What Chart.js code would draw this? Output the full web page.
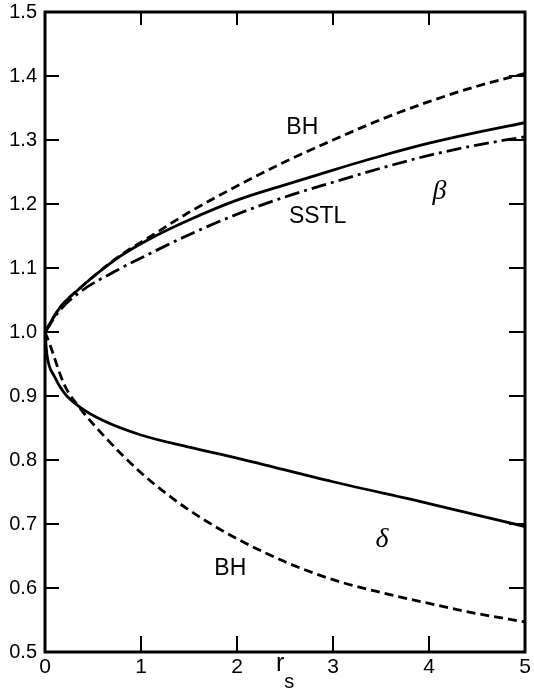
<!DOCTYPE html>
<html>
<head>
<meta charset="utf-8">
<script src="https://cdn.jsdelivr.net/npm/chart.js@4/dist/chart.umd.min.js"></script>
<style>
  html, body { margin: 0; padding: 0; background: #fff; }
  #wrap { width: 534px; height: 689px; position: relative; }
</style>
</head>
<body>
<div id="wrap"><canvas id="c" width="534" height="689"></canvas></div>
<script>
// ---- data ----
const xTicks = [0, 1, 2, 3, 4, 5];
const yTicks = [0.5, 0.6, 0.7, 0.8, 0.9, 1.0, 1.1, 1.2, 1.3, 1.4, 1.5];

const betaX       = [0, 0.15, 0.36, 0.77, 1.085, 1.5, 2, 2.5, 3, 3.5, 4, 4.5, 5];
const betaSolid   = [1.0, 1.037, 1.068, 1.117, 1.145, 1.175, 1.206, 1.23, 1.253, 1.275, 1.295, 1.312, 1.327];
const betaBH      = [1.0, 1.037, 1.068, 1.118, 1.148, 1.187, 1.228, 1.266, 1.30, 1.332, 1.36, 1.384, 1.404];
const betaSSTL    = [1.0, 1.033, 1.062, 1.098, 1.122, 1.152, 1.184, 1.211, 1.234, 1.256, 1.276, 1.292, 1.305];

const deltaSolidX = [0, 0.02, 0.1, 0.2, 0.36, 0.6, 1.0, 1.5, 2, 3, 4, 5];
const deltaSolid  = [1.0, 0.965, 0.93, 0.905, 0.883, 0.862, 0.839, 0.82, 0.803, 0.766, 0.732, 0.696];
const deltaBHX    = [0, 0.04, 0.2, 0.36, 0.63, 1.0, 1.33, 1.6, 2, 2.5, 3, 3.5, 4, 4.5, 5];
const deltaBH     = [1.0, 0.985, 0.918, 0.882, 0.835, 0.78, 0.74, 0.712, 0.677, 0.641, 0.613, 0.593, 0.576, 0.56, 0.547];

const annotations = [
  { text: 'BH',   x: 2.68, y: 1.32,  font: '23px "Liberation Sans", Arial, sans-serif' },
  { text: 'SSTL', x: 2.84, y: 1.18,  font: '23px "Liberation Sans", Arial, sans-serif' },
  { text: 'β',    x: 4.11, y: 1.219, font: 'italic 28px "Liberation Serif", "DejaVu Serif", serif' },
  { text: 'δ',    x: 3.51, y: 0.675, font: 'italic 28px "Liberation Serif", "DejaVu Serif", serif' },
  { text: 'BH',   x: 1.93, y: 0.631, font: '23px "Liberation Sans", Arial, sans-serif' }
];

function pts(xs, ys) { return xs.map((v, i) => ({ x: v, y: ys[i] })); }

const SANS = '"Liberation Sans", Arial, Helvetica, sans-serif';

const framePlugin = {
  id: 'frame',
  afterDraw(chart) {
    const { ctx, chartArea: a, scales: { x, y } } = chart;
    ctx.save();
    ctx.strokeStyle = '#000';
    ctx.lineWidth = 3;
    ctx.strokeRect(a.left, a.top, a.right - a.left, a.bottom - a.top);
    ctx.lineWidth = 2;
    ctx.beginPath();
    yTicks.forEach(v => {
      if (v === 0.5 || v === 1.5) return;
      const py = Math.round(y.getPixelForValue(v));
      ctx.moveTo(a.left, py); ctx.lineTo(a.left + 14, py);
      ctx.moveTo(a.right, py); ctx.lineTo(a.right - 16, py);
    });
    xTicks.forEach(v => {
      if (v === 0 || v === 5) return;
      const px = Math.round(x.getPixelForValue(v));
      ctx.moveTo(px, a.bottom); ctx.lineTo(px, a.bottom - 16);
      ctx.moveTo(px, a.top); ctx.lineTo(px, a.top + 13);
    });
    ctx.stroke();

    ctx.fillStyle = '#000';
    ctx.textAlign = 'center';
    ctx.textBaseline = 'middle';
    annotations.forEach(an => {
      ctx.font = an.font;
      ctx.fillText(an.text, x.getPixelForValue(an.x), y.getPixelForValue(an.y));
    });
    // axis label r_s
    const rx = x.getPixelForValue(2.45);
    ctx.textBaseline = 'alphabetic';
    ctx.font = '25px ' + SANS;
    ctx.fillText('r', rx, a.bottom + 19);
    ctx.font = '20px ' + SANS;
    ctx.fillText('s', rx + 9, a.bottom + 36);
    ctx.restore();
  }
};

const common = { showLine: true, pointRadius: 0, borderColor: '#000', borderWidth: 2.8, fill: false, cubicInterpolationMode: 'monotone' };

new Chart(document.getElementById('c'), {
  type: 'scatter',
  data: {
    datasets: [
      { ...common, data: pts(betaX, betaSolid) },
      { ...common, data: pts(betaX, betaBH), borderDash: [9, 5] },
      { ...common, data: pts(betaX, betaSSTL), borderDash: [15, 5, 3, 5] },
      { ...common, data: pts(deltaSolidX, deltaSolid) },
      { ...common, data: pts(deltaBHX, deltaBH), borderDash: [9, 5] }
    ]
  },
  options: {
    responsive: false,
    animation: false,
    devicePixelRatio: 1,
    layout: { padding: { top: 12, right: 9, left: 0, bottom: 0 } },
    plugins: { legend: { display: false }, tooltip: { enabled: false } },
    scales: {
      x: {
        type: 'linear', min: 0, max: 5,
        afterBuildTicks(s) { s.ticks = xTicks.map(v => ({ value: v })); },
        afterFit(s) { s.height = 37; s.paddingLeft = 0; s.paddingRight = 0; },
        grid: { display: false, drawTicks: false },
        border: { display: false },
        ticks: { color: '#000', font: { family: SANS, size: 21 }, padding: 3, maxRotation: 0, callback: v => String(v) }
      },
      y: {
        type: 'linear', min: 0.5, max: 1.5,
        afterBuildTicks(s) { s.ticks = yTicks.map(v => ({ value: v })); },
        afterFit(s) { s.width = 45; s.paddingTop = 0; s.paddingBottom = 0; },
        grid: { display: false, drawTicks: false },
        border: { display: false },
        ticks: { color: '#000', font: { family: SANS, size: 20 }, padding: 8, callback: v => Number(v).toFixed(1) }
      }
    }
  },
  plugins: [framePlugin]
});
</script>
</body>
</html>
